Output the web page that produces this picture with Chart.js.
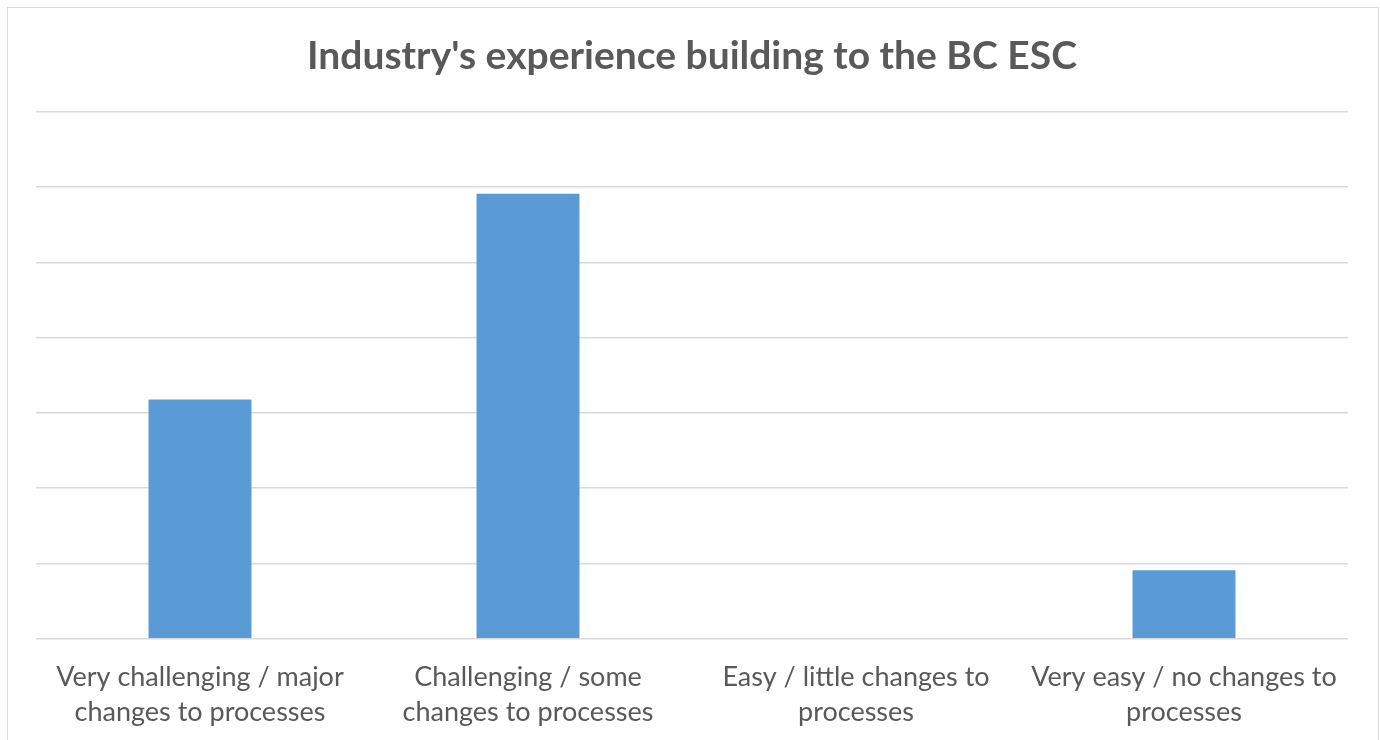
<!DOCTYPE html>
<html>
<head>
<meta charset="utf-8">
<script src="https://cdn.jsdelivr.net/npm/chart.js@4.4.1/dist/chart.umd.min.js"></script>
<style>
  html, body { margin: 0; padding: 0; background: #fff; overflow: hidden; }
  #frame { position: absolute; left: 7px; top: 7px; width: 1370px; height: 800px; border: 1px solid #d9d9d9; }
  #chart { position: absolute; left: 0; top: 0; }
</style>
</head>
<body>
<div id="frame"></div>
<canvas id="chart" width="1380" height="740"></canvas>
<script>
const categories = [
  ["Very challenging / major", "changes to processes"],
  ["Challenging / some", "changes to processes"],
  ["Easy / little changes to", "processes"],
  ["Very easy / no changes to", "processes"]
];
// share of respondents, percent
const shares = [31.8, 59.1, 0, 9.1];
const yMax = 70;
const yStep = 10;

const textGray = "#595959";
const gridGray = "#d9d9d9";

new Chart(document.getElementById("chart"), {
  type: "bar",
  data: {
    labels: categories,
    datasets: [{
      data: shares,
      backgroundColor: "#5b9bd5",
      borderWidth: 0,
      categoryPercentage: 1,
      barPercentage: 0.314
    }]
  },
  options: {
    responsive: false,
    animation: false,
    layout: { padding: { left: 36, right: 32, top: 0, bottom: -11 } },
    plugins: {
      legend: { display: false },
      tooltip: { enabled: false },
      title: {
        display: true,
        text: "Industry's experience building to the BC ESC",
        color: textGray,
        font: { family: "Lato", size: 39, weight: "bold" },
        padding: { top: 33, bottom: 32 }
      }
    },
    scales: {
      x: {
        grid: { display: false, drawTicks: false },
        border: { display: false },
        ticks: {
          color: textGray,
          font: { family: "Lato", size: 27, lineHeight: 1.3 },
          padding: 21,
          maxRotation: 0,
          autoSkip: false
        }
      },
      y: {
        min: 0,
        max: yMax,
        ticks: { display: false, stepSize: yStep },
        grid: { color: gridGray, lineWidth: 1.5, drawTicks: false },
        border: { display: false }
      }
    }
  }
});
</script>
</body>
</html>
